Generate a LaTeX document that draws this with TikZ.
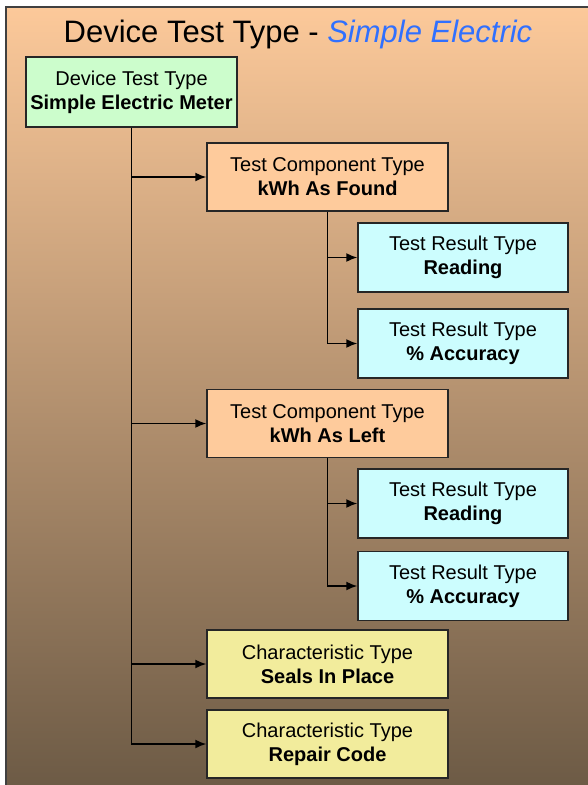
\documentclass[tikz,border=0pt]{standalone}
\usepackage{fontspec}
\setmainfont{Liberation Sans}
\usepackage{xcolor}
\usetikzlibrary{arrows.meta}

\definecolor{bgtop}{HTML}{FCC99A}
\definecolor{bgbot}{HTML}{6C5A45}
\definecolor{devfill}{HTML}{CCFDCC}
\definecolor{compfill}{HTML}{FECB9C}
\definecolor{resfill}{HTML}{CCFDFE}
\definecolor{charfill}{HTML}{F2EC9C}
\definecolor{titleblue}{HTML}{3070FF}

\begin{document}
\begin{tikzpicture}[x=1pt, y=-1pt,
		box/.style={
			draw=black!85, line width=1.5pt, rectangle,
			minimum height=68pt, inner sep=0pt,
			font=\fontsize{20}{24}\selectfont, align=center
		},
		devbox/.style={box, fill=devfill, minimum width=211pt, minimum height=70pt},
		compbox/.style={box, fill=compfill, minimum width=241pt},
		resbox/.style={box, fill=resfill, minimum width=210pt, minimum height=69pt},
		charbox/.style={box, fill=charfill, minimum width=241pt},
		arr/.style={-{Latex[length=11pt, width=9pt]}, line width=1.5pt},
		]
		
		\useasboundingbox (0, 0) rectangle (587, 785);
		\fill[white] (0, 0) rectangle (587, 785);
		\shade[top color=bgtop, bottom color=bgbot, draw=black!75, line width=1.8pt]
			(6, 7) rectangle (592, 790);
		
		\node[font=\fontsize{31}{34}\selectfont] (title) at (298, 34)
			{Device Test Type - \textcolor{titleblue}{\itshape Simple Electric}};
		
		\node[devbox] (dev) at (131.5, 92) {Device Test Type\\\textbf{Simple Electric Meter}};
		
		\node[compbox] (found) at (327.5, 177) {Test Component Type\\\textbf{kWh As Found}};
		\node[resbox] (readA) at (463, 257.5) {Test Result Type\\\textbf{Reading}};
		\node[resbox] (accA)  at (463, 343.5) {Test Result Type\\\textbf{\% Accuracy}};
		
		\node[compbox] (left) at (327.5, 423.5) {Test Component Type\\\textbf{kWh As Left}};
		\node[resbox] (readB) at (463, 503.5) {Test Result Type\\\textbf{Reading}};
		\node[resbox] (accB)  at (463, 586) {Test Result Type\\\textbf{\% Accuracy}};
		
		\node[charbox] (seals)  at (327.5, 664) {Characteristic Type\\\textbf{Seals In Place}};
		\node[charbox] (repair) at (327.5, 744) {Characteristic Type\\\textbf{Repair Code}};
		
		\draw[arr] (dev.south) |- (found.west);
		\draw[arr] (dev.south) |- (left.west);
		\draw[arr] (dev.south) |- (seals.west);
		\draw[arr] (dev.south) |- (repair.west);
		
		\draw[arr] (found.south) |- (readA.west);
		\draw[arr] (found.south) |- (accA.west);
		\draw[arr] (left.south)  |- (readB.west);
		\draw[arr] (left.south)  |- (accB.west);
		
	\end{tikzpicture}
\end{document}
